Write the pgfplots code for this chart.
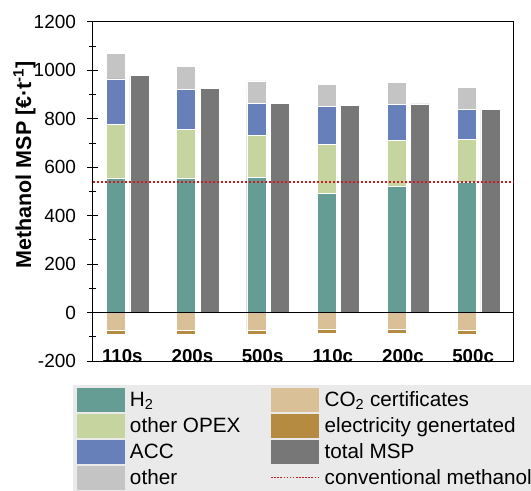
\documentclass[border=0pt]{standalone}
\usepackage{pgfplots}
\pgfplotsset{compat=1.18}
\usepackage{fontspec}
\setmainfont{Liberation Sans}
\definecolor{cH}{RGB}{101,157,148}
\definecolor{cO}{RGB}{198,213,159}
\definecolor{cA}{RGB}{104,128,186}
\definecolor{cT}{RGB}{196,196,196}
\definecolor{cC}{RGB}{217,192,151}
\definecolor{cE}{RGB}{180,139,64}
\definecolor{cM}{RGB}{119,119,119}
\definecolor{cR}{RGB}{200,30,35}
\definecolor{cL}{RGB}{234,234,234}
\newcommand\patch[1]{\addlegendimage{legend image code/.code={\fill[#1] (0bp,-11.5bp) rectangle (47bp,11.5bp);}}}
\begin{document}
\begin{tikzpicture}[x=1bp,y=1bp]
\useasboundingbox (0,0) rectangle (531,491);
\begin{axis}[
  at={(92.7bp,130bp)},
  scale only axis, width=421bp, height=339.3bp,
  xmin=-0.5, xmax=5.5, ymin=-200, ymax=1200,
  ytick={-200,0,...,1200}, minor y tick num=1,
  ytick pos=left,
  xtick={0,...,5}, xticklabels={110s,200s,500s,110c,200c,500c},
  major x tick style={draw=none},
  tick align=center, major tick length=11bp, minor tick length=7bp,
  axis line style={line width=0.8bp},
  every tick/.style={black, line width=0.7bp},
  /pgf/number format/assume math mode=true,
  /pgf/number format/set thousands separator={},
  yticklabel style={font=\fontsize{19bp}{22bp}\selectfont, anchor=east, inner sep=0pt, xshift=-11bp},
  xticklabel style={font=\bfseries\fontsize{18.7bp}{22bp}\selectfont, anchor=center, inner sep=0pt, yshift=10.5bp, xshift=-5.5bp},
  ylabel={Methanol MSP [€·t\textsuperscript{-1}]},
  ylabel style={font=\bfseries\fontsize{21.5bp}{24bp}\selectfont, at={(axis description cs:-0.162,0.578)}, anchor=center},
  legend style={draw=none, fill=cL, inner xsep=3.7bp, inner ysep=3bp,
    at={(axis description cs:-0.0468,-0.0707)}, anchor=north west,
    font=\fontsize{20.7bp}{24bp}\selectfont, row sep=2.5bp,
    nodes={inner sep=0pt},
    /tikz/every odd column/.append style={column sep=5.7bp},
    /tikz/every even column/.append style={column sep=29.8bp}},
  legend cell align=left,
  legend columns=4, transpose legend,
]
% stacked bars drawn as cumulative tops (overpainted)
\addplot[forget plot, ybar, bar width=19bp, bar shift=-11.7bp, fill=cT, draw=white, line width=0.6bp]
  coordinates {(0,1068) (1,1015) (2,956) (3,940) (4,948) (5,929)};
\addplot[forget plot, ybar, bar width=19bp, bar shift=-11.7bp, fill=cA, draw=white, line width=0.6bp]
  coordinates {(0,964) (1,920) (2,864) (3,850) (4,859) (5,839)};
\addplot[forget plot, ybar, bar width=19bp, bar shift=-11.7bp, fill=cO, draw=white, line width=0.6bp]
  coordinates {(0,777) (1,757) (2,731) (3,695) (4,710) (5,713)};
\addplot[forget plot, ybar, bar width=19bp, bar shift=-11.7bp, fill=cH, draw=white, line width=0.6bp]
  coordinates {(0,553) (1,553) (2,556) (3,490) (4,519) (5,539)};
\addplot[forget plot, ybar, bar width=19bp, bar shift=-11.7bp, fill=cE, draw=white, line width=0.6bp]
  coordinates {(0,-89) (1,-89) (2,-90) (3,-84) (4,-85) (5,-89)};
\addplot[forget plot, ybar, bar width=19bp, bar shift=-11.7bp, fill=cC, draw=white, line width=0.6bp]
  coordinates {(0,-75) (1,-75) (2,-75) (3,-69) (4,-71) (5,-73)};
% total MSP
\addplot[forget plot, ybar, bar width=19bp, bar shift=11.7bp, fill=cM, draw=white, line width=0.6bp]
  coordinates {(0,977) (1,926) (2,864) (3,854) (4,861) (5,838)};
% zero line
\addplot[forget plot, black, line width=0.7bp] coordinates {(-0.5,0) (5.5,0)};
% conventional methanol
\addplot[forget plot, cR, line width=2bp, dash pattern=on 2bp off 2bp] coordinates {(-0.5,540) (5.5,540)};
% legend
\patch{cH}\addlegendentry{H\textsubscript{2}}
\patch{cO}\addlegendentry{other OPEX}
\patch{cA}\addlegendentry{ACC}
\patch{cT}\addlegendentry{other}
\patch{cC}\addlegendentry{CO\textsubscript{2} certificates}
\patch{cE}\addlegendentry{electricity genertated}
\patch{cM}\addlegendentry{total MSP}
\addlegendimage{legend image code/.code={\draw[cR, line width=1.7bp, dash pattern=on 1.6bp off 1.5bp] (0bp,0bp) -- (47bp,0bp);}}
\addlegendentry{conventional methanol}
\end{axis}
\end{tikzpicture}
\end{document}
